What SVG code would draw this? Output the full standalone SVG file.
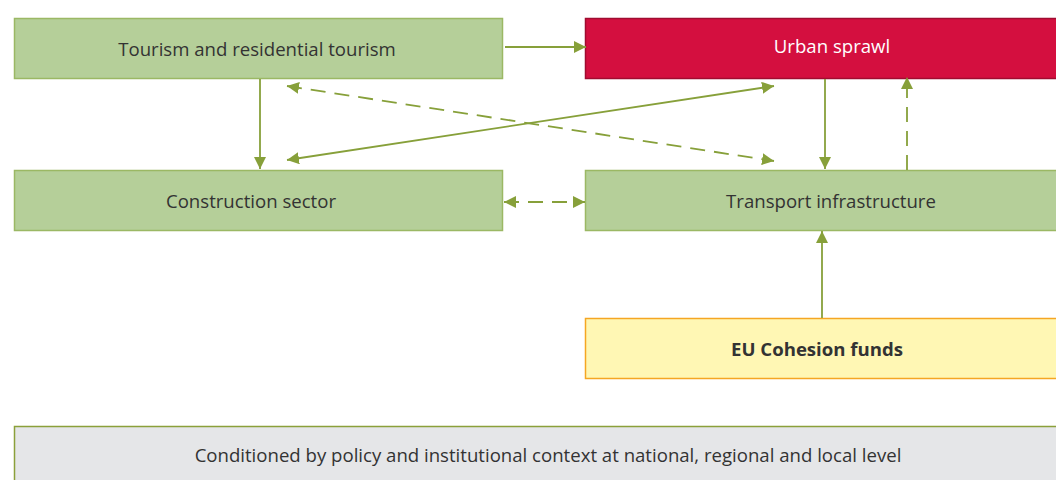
<svg xmlns="http://www.w3.org/2000/svg" width="1056" height="480" viewBox="0 0 1056 480">
<style>
.g{fill:#b5cf99;stroke:#9bb864;stroke-width:1.5}
.t{font-family:"Open Sans","Liberation Sans",sans-serif;font-size:18.6px;fill:#333;text-anchor:middle}
.c{stroke:#87a03a;stroke-width:1.8;fill:none}
.d{stroke-dasharray:15 9}
</style>
<defs>
<marker id="a" viewBox="0 0 12 12" refX="12" refY="6" markerWidth="12" markerHeight="12" markerUnits="userSpaceOnUse" orient="auto-start-reverse">
<path d="M0,0 L12,6 L0,12 Z" fill="#87a03a"/>
</marker>
</defs>
<rect width="1056" height="480" fill="#fff"/>
<g id="tourism"><rect class="g" x="14.5" y="18.5" width="488" height="60"/><text class="t" x="257" y="56">Tourism and residential tourism</text></g>
<g id="sprawl"><rect x="585.5" y="18.5" width="500" height="60" fill="#d40f3f" stroke="#a00c30" stroke-width="1.5"/><text class="t" x="832" y="53" style="fill:#fff">Urban sprawl</text></g>
<g id="construction"><rect class="g" x="14.5" y="170.5" width="488" height="60"/><text class="t" x="251" y="208">Construction sector</text></g>
<g id="transport"><rect class="g" x="585.5" y="170.5" width="500" height="60"/><text class="t" x="831" y="208">Transport infrastructure</text></g>
<g id="eu"><rect x="585.5" y="318.5" width="500" height="60" fill="#fff7b4" stroke="#f5a623" stroke-width="1.5"/><text class="t" x="817" y="356" style="font-weight:bold">EU Cohesion funds</text></g>
<g id="context"><rect x="14.5" y="426.5" width="1070" height="60" fill="#e5e6e8" stroke="#8ba03a" stroke-width="1.5"/><text class="t" x="548" y="462">Conditioned by policy and institutional context at national, regional and local level</text></g>
<g id="connectors">
<line class="c" x1="505" y1="47" x2="586" y2="47" marker-end="url(#a)"/>
<line class="c" x1="260" y1="79" x2="260" y2="169" marker-end="url(#a)"/>
<line class="c d" x1="287" y1="86" x2="774" y2="161" marker-start="url(#a)" marker-end="url(#a)"/>
<line class="c" x1="287" y1="160" x2="774" y2="86" marker-start="url(#a)" marker-end="url(#a)"/>
<line class="c" x1="825" y1="79" x2="825" y2="169" marker-end="url(#a)"/>
<line class="c d" x1="907" y1="170" x2="907" y2="77" marker-end="url(#a)"/>
<line class="c d" x1="504" y1="202" x2="585" y2="202" marker-start="url(#a)" marker-end="url(#a)"/>
<line class="c" x1="822" y1="318" x2="822" y2="231" marker-end="url(#a)"/>
</g>
</svg>
